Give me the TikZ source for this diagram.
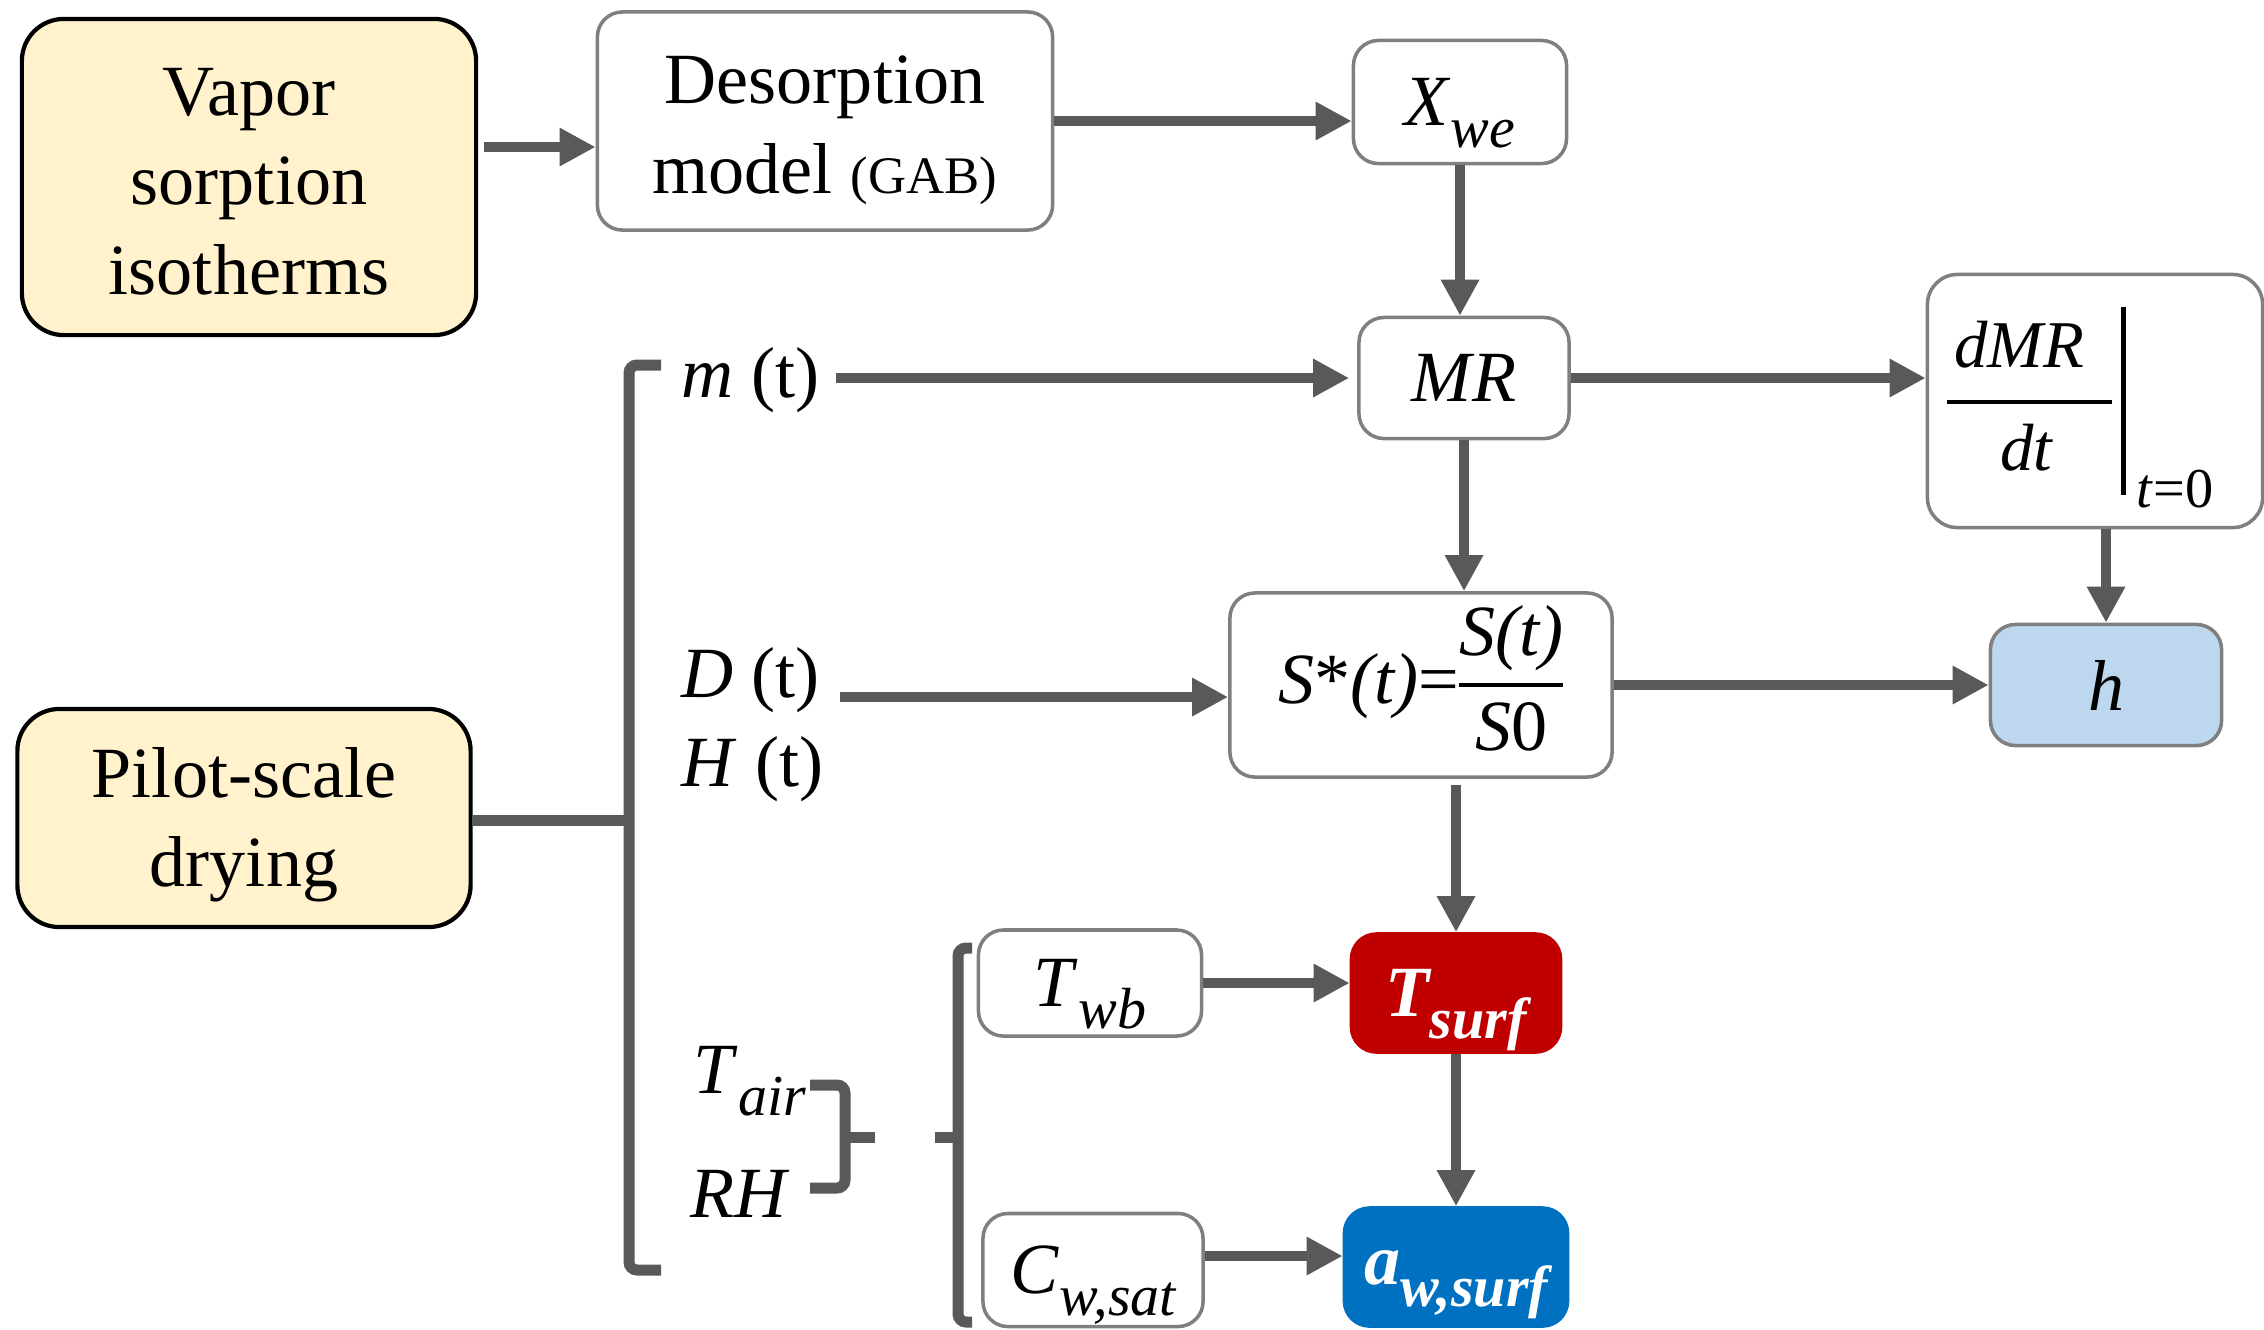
\documentclass[tikz,border=0pt]{standalone}
\usepackage{fontspec}
\setmainfont{Liberation Serif}
\usetikzlibrary{arrows.meta,positioning,calc}

\definecolor{arrowgray}{HTML}{595959}
\definecolor{boxgray}{HTML}{7F7F7F}
\definecolor{inputyellow}{HTML}{FFF2CC}
\definecolor{hblue}{HTML}{BDD7EE}
\definecolor{tred}{HTML}{C00000}
\definecolor{awblue}{HTML}{0070C0}

\setlength{\arrayrulewidth}{1.3pt}
\newcommand{\lo}[1]{\raisebox{-0.22cm}{\fontsize{16.5}{16.5}\selectfont #1}}
\newcommand{\tallstrut}[1]{\rule{0pt}{#1}}

\tikzset{
  input/.style={draw=black, line width=1.2pt, fill=inputyellow, rounded corners=0.42cm, align=center, inner sep=0pt},
  block/.style={draw=boxgray, line width=1pt, fill=white, rounded corners=0.25cm, align=center, inner sep=0pt},
  subbed/.style={text depth=0pt},
  data/.style={anchor=base west, inner sep=0pt},
  arr/.style={draw=arrowgray, line width=0.1cm, -{Triangle[length=0.36cm,width=0.36cm]}},
  brack/.style={draw=arrowgray, line width=0.11cm, rounded corners=0.08cm},
}

\begin{document}
\begin{tikzpicture}[x=0.01cm, y=-0.01cm, font=\fontsize{20.5}{25.5}\selectfont]
  \useasboundingbox (0,0) rectangle (2264,1329);

  % sources
  \node[input, minimum width=4.54cm, minimum height=3.16cm] (vapor) at (249,177) {\tallstrut{16pt}Vapor\\sorption\\isotherms};
  \node[input, minimum width=4.53cm, minimum height=2.18cm] (pilot) at (244,818) {\tallstrut{18pt}Pilot-scale\\drying};

  % boxes
  \node[block, minimum width=4.55cm, minimum height=2.18cm] (desorp) at (825,121) {\tallstrut{19pt}Desorption\\model {\fontsize{15}{15}\selectfont (GAB)}};
  \node[block, subbed, minimum width=2.13cm, minimum height=1.23cm] (xwe) at (1460,102) {\textit{X}\lo{\itshape we}};
  \node[block, minimum width=2.10cm, minimum height=1.21cm] (mr) at (1464,378) {\textit{MR}};
  \node[block, rounded corners=0.3cm, minimum width=3.35cm, minimum height=2.53cm] (dmr) at (2095,401) {};
  \node[block, minimum width=3.82cm, minimum height=1.84cm] (sstar) at (1421,685) {\textit{S}*\textit{(t)}=\begin{tabular}{@{}c@{}}\textit{S(t)}\\\hline\textit{S}0\end{tabular}};
  \node[block, fill=hblue, minimum width=2.31cm, minimum height=1.21cm] (h) at (2106,685) {\textit{h}};
  \node[block, subbed, draw=tred, fill=tred, text=white, minimum width=2.09cm, minimum height=1.18cm] (tsurf) at (1456,993) {\bfseries\itshape T\lo{\bfseries\itshape surf}};
  \node[block, subbed, draw=awblue, fill=awblue, text=white, minimum width=2.23cm, minimum height=1.18cm] (aw) at (1456,1267) {\bfseries\itshape a\lo{\bfseries\itshape w,surf}};
  \node[block, subbed, minimum width=2.23cm, minimum height=1.06cm] (twb) at (1090,983) {\textit{T}\lo{\itshape wb}};
  \node[block, subbed, minimum width=2.20cm, minimum height=1.13cm] (cw) at (1093,1270) {\textit{C}\lo{\itshape w,sat}};

  % derivative at t=0
  \node[anchor=base, font=\fontsize{19}{20}\selectfont\itshape] (dmrnum) at (2019,367) {dMR};
  \node[anchor=base, font=\fontsize{19}{20}\selectfont\itshape] (dmrden) at (2026,470) {dt};
  \draw[line width=0.04cm] (1947,402) -- (2112,402);
  \draw[line width=0.05cm] (2123,307) -- (2123,495);
  \node[anchor=base west, inner sep=0pt, font=\fontsize{16}{18}\selectfont] (dmrsub) at (2136,507) {\textit{t}=0};

  % measured data
  \node[data] (mt) at (681,397) {\textit{m} (t)};
  \node[data] (dt) at (681,697) {\textit{D} (t)};
  \node[data] (ht) at (681,786) {\textit{H} (t)};
  \node[data] (tair) at (693,1093) {\textit{T}\lo{\itshape air}};
  \node[data] (rh) at (690,1217) {\textit{RH}};

  % brackets
  \coordinate (bigcusp) at (629,820);
  \draw[brack] (661,365) -| (629,1270) -- (661,1270);
  \draw[brack, rounded corners=0] (pilot.east |- bigcusp) -- (bigcusp);
  \draw[brack] (810,1085) -| (845,1188) -- (810,1188);
  \draw[brack, rounded corners=0] (845,1137) -- (875,1137);
  \draw[brack] (972,948) -| (958,1322) -- (972,1322);
  \draw[brack, rounded corners=0] (958,1137) -- (935,1137);

  % arrows
  \draw[arr] ($(vapor.east)+(6,-30)$) coordinate (vd) -- (vd -| desorp.west);
  \draw[arr] (desorp.east) -- (desorp.east -| xwe.west);
  \draw[arr] (xwe.south) -- (xwe.south |- mr.north);
  \draw[arr] ($(mt.east |- mr.west)+(15,0)$) -- ($(mr.west)+(-8,0)$);
  \draw[arr] (mr.east) -- (mr.east -| dmr.west);
  \draw[arr] (mr.south) -- (mr.south |- sstar.north);
  \draw[arr] ($(dt.base east)+(19,0)$) -- (dt.base east -| sstar.west);
  \draw[arr] (sstar.east) -- (sstar.east -| h.west);
  \draw[arr] (h.north |- dmr.south) -- (h.north);
  \draw[arr] ($(tsurf.north |- sstar.south)+(0,6)$) -- (tsurf.north);
  \draw[arr] (twb.east) -- (twb.east -| tsurf.west);
  \draw[arr] (tsurf.south) -- (tsurf.south |- aw.north);
  \draw[arr] ($(cw.east)+(0,-14)$) coordinate (ca) -- (ca -| aw.west);
\end{tikzpicture}
\end{document}
